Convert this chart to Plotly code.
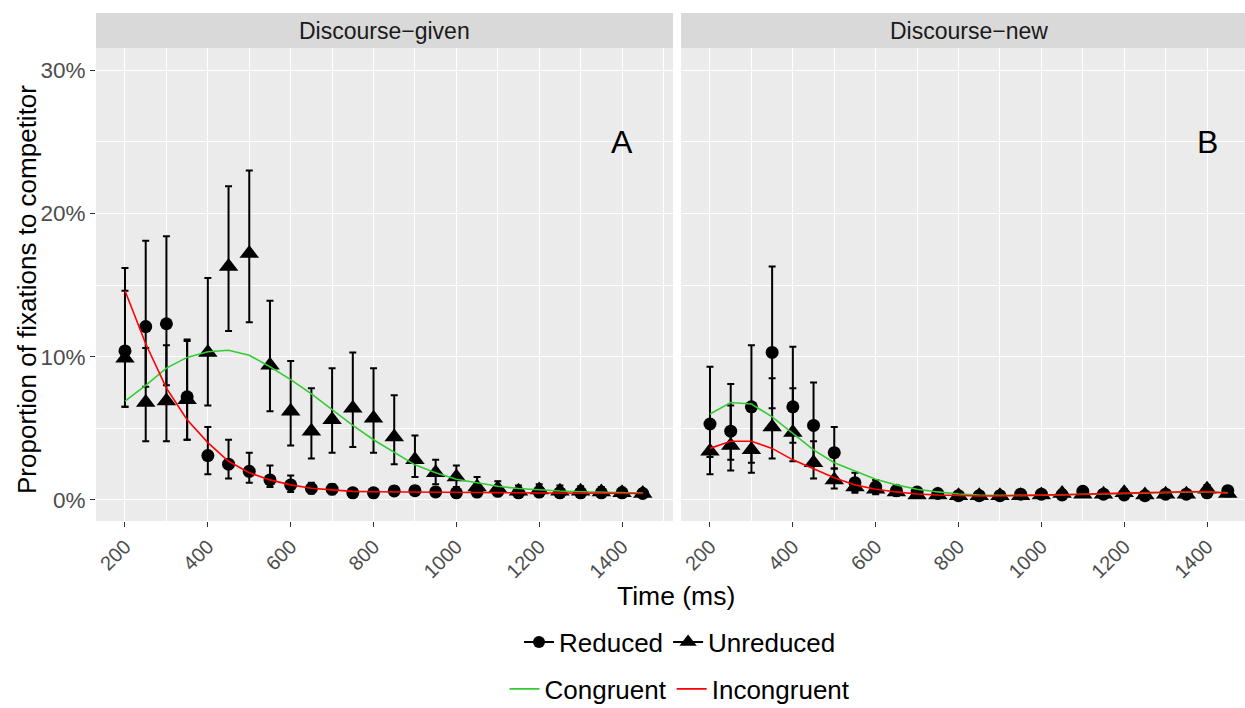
import plotly.graph_objects as go

# ---------------- data (values in %) ----------------
time_ms = [200, 250, 300, 350, 400, 450, 500, 550, 600, 650, 700, 750, 800,
           850, 900, 950, 1000, 1050, 1100, 1150, 1200, 1250, 1300, 1350, 1400, 1450]

# Discourse-given panel
given_reduced = [10.4, 12.1, 12.3, 7.2, 3.1, 2.5, 2.0, 1.4, 1.05, 0.8, 0.75, 0.5, 0.5,
                 0.63, 0.65, 0.56, 0.5, 0.55, 0.6, 0.5, 0.55, 0.5, 0.5, 0.5, 0.5, 0.45]
given_reduced_lo = [6.5, 7.9, 8.0, 4.2, 1.8, 1.5, 1.2, 0.9, 0.55, 0.45, 0.4, 0.25, 0.25,
                    0.35, 0.35, 0.3, 0.25, 0.3, 0.35, 0.3, 0.3, 0.3, 0.3, 0.3, 0.3, 0.25]
given_reduced_hi = [14.6, 18.1, 18.4, 11.1, 5.1, 4.2, 3.3, 2.4, 1.7, 1.2, 1.1, 0.8, 0.8,
                    0.95, 0.95, 0.85, 0.8, 0.85, 0.9, 0.8, 0.8, 0.75, 0.75, 0.75, 0.75, 0.7]
given_unreduced = [9.9, 6.8, 6.9, 7.0, 10.3, 16.3, 17.2, 9.4, 6.2, 4.8, 5.6, 6.4, 5.7,
                   4.4, 2.8, 1.9, 1.6, 0.9, 0.8, 0.6, 0.7, 0.6, 0.6, 0.55, 0.5, 0.45]
given_unreduced_lo = [6.5, 4.1, 4.1, 4.2, 6.6, 11.8, 12.4, 6.2, 3.8, 2.9, 3.3, 3.7, 3.3,
                      2.5, 1.6, 1.1, 0.9, 0.5, 0.4, 0.3, 0.4, 0.3, 0.3, 0.3, 0.3, 0.25]
given_unreduced_hi = [16.2, 10.6, 10.8, 11.2, 15.5, 21.9, 23.0, 13.9, 9.7, 7.8, 9.2, 10.3, 9.2,
                      7.3, 4.5, 2.8, 2.4, 1.6, 1.3, 1.0, 1.1, 1.0, 0.95, 0.9, 0.85, 0.75]
given_congruent = [6.9, 8.0, 9.2, 9.95, 10.35, 10.45, 10.1, 9.3, 8.4, 7.4, 6.3, 5.2, 4.2,
                   3.35, 2.45, 1.9, 1.45, 1.2, 0.95, 0.8, 0.7, 0.62, 0.57, 0.53, 0.5, 0.48]
given_incongruent = [14.6, 10.9, 7.8, 5.6, 4.0, 2.7, 1.9, 1.4, 1.05, 0.82, 0.7, 0.6, 0.57,
                     0.55, 0.55, 0.54, 0.53, 0.52, 0.51, 0.5, 0.5, 0.49, 0.48, 0.47, 0.46, 0.45]

# Discourse-new panel
new_reduced = [5.3, 4.8, 6.5, 10.3, 6.5, 5.2, 3.3, 1.2, 0.9, 0.65, 0.55, 0.45, 0.3,
               0.3, 0.3, 0.4, 0.4, 0.35, 0.6, 0.4, 0.35, 0.3, 0.4, 0.4, 0.5, 0.65]
new_reduced_lo = [3.0, 2.8, 2.6, 6.4, 4.0, 2.5, 2.2, 0.6, 0.5, 0.35, 0.3, 0.25, 0.15,
                  0.15, 0.15, 0.2, 0.2, 0.2, 0.35, 0.2, 0.2, 0.15, 0.2, 0.2, 0.3, 0.4]
new_reduced_hi = [9.3, 8.1, 10.8, 16.3, 10.7, 8.2, 5.1, 1.9, 1.4, 1.0, 0.85, 0.7, 0.5,
                  0.5, 0.5, 0.6, 0.6, 0.55, 0.85, 0.6, 0.55, 0.5, 0.6, 0.6, 0.75, 0.9]
new_unreduced = [3.4, 3.8, 3.5, 5.1, 4.7, 2.6, 1.4, 0.9, 0.75, 0.55, 0.35, 0.35, 0.3,
                 0.3, 0.3, 0.3, 0.35, 0.45, 0.4, 0.4, 0.5, 0.35, 0.4, 0.4, 0.75, 0.45]
new_unreduced_lo = [1.8, 2.05, 1.9, 2.9, 2.7, 1.5, 0.8, 0.5, 0.4, 0.3, 0.2, 0.2, 0.15,
                    0.15, 0.15, 0.15, 0.2, 0.25, 0.2, 0.2, 0.3, 0.2, 0.2, 0.2, 0.45, 0.25]
new_unreduced_hi = [5.2, 6.6, 6.2, 8.5, 7.8, 4.1, 2.2, 1.5, 1.2, 0.85, 0.55, 0.55, 0.5,
                    0.5, 0.5, 0.5, 0.55, 0.7, 0.65, 0.65, 0.75, 0.55, 0.6, 0.6, 1.05, 0.7]
new_congruent = [6.0, 6.8, 6.7, 5.8, 4.65, 3.5, 2.6, 2.05, 1.45, 1.05, 0.75, 0.56, 0.42,
                 0.35, 0.32, 0.32, 0.33, 0.36, 0.4, 0.43, 0.47, 0.5, 0.53, 0.56, 0.57, 0.5]
new_incongruent = [3.6, 4.1, 4.1, 3.6, 2.8, 2.2, 1.55, 1.05, 0.75, 0.56, 0.42, 0.35, 0.3,
                   0.28, 0.28, 0.3, 0.32, 0.36, 0.4, 0.44, 0.48, 0.52, 0.55, 0.57, 0.58, 0.47]

panel_titles = ["Discourse−given", "Discourse−new"]
panel_letters = ["A", "B"]
y_tick_vals = [0, 0.1, 0.2, 0.3]
y_tick_text = ["0%", "10%", "20%", "30%"]
x_tick_vals = [200, 400, 600, 800, 1000, 1200, 1400]

# ---------------- styling ----------------
FONT = "Liberation Sans, Arial, Helvetica, sans-serif"
GREEN = "#33CC33"
RED = "#FF0000"
PANEL_BG = "#EBEBEB"
STRIP_BG = "#D9D9D9"

W, H = 1245, 708
ML, MR, MT, MB = 96, 0, 48, 187
plot_w = W - ML - MR
plot_h = H - MT - MB
px_left_end, px_right_start = 673, 681
dom1 = [0, (px_left_end - ML) / plot_w]
dom2 = [(px_right_start - ML) / plot_w, 1]
x_px_per_ms = (px_left_end - ML) / (1523 - 130)
x2_max = 130 + (W - MR - px_right_start) / x_px_per_ms


def frac(v):
    return [a / 100 for a in v]


def err(mean, lo, hi):
    return dict(type="data", symmetric=False,
                array=[(h - m) / 100 for m, h in zip(mean, hi)],
                arrayminus=[(m - l) / 100 for m, l in zip(mean, lo)],
                color="black", thickness=2, width=3.5)


fig = go.Figure()

panels = [
    ("x", "y", given_reduced, given_reduced_lo, given_reduced_hi,
     given_unreduced, given_unreduced_lo, given_unreduced_hi,
     given_congruent, given_incongruent),
    ("x2", "y2", new_reduced, new_reduced_lo, new_reduced_hi,
     new_unreduced, new_unreduced_lo, new_unreduced_hi,
     new_congruent, new_incongruent),
]

for xa, ya, red_m, red_l, red_h, unr_m, unr_l, unr_h, cong, incong in panels:
    fig.add_trace(go.Scatter(x=time_ms, y=frac(red_m), mode="markers", xaxis=xa, yaxis=ya,
                             marker=dict(symbol="circle", size=13, color="black"),
                             error_y=err(red_m, red_l, red_h), showlegend=False,
                             hoverinfo="skip"))
    fig.add_trace(go.Scatter(x=time_ms, y=frac(unr_m), mode="markers", xaxis=xa, yaxis=ya,
                             marker=dict(symbol="triangle-up", size=17, color="black"),
                             error_y=err(unr_m, unr_l, unr_h), showlegend=False,
                             hoverinfo="skip"))
    fig.add_trace(go.Scatter(x=time_ms, y=frac(cong), mode="lines", xaxis=xa, yaxis=ya,
                             line=dict(color=GREEN, width=1.6), showlegend=False,
                             hoverinfo="skip"))
    fig.add_trace(go.Scatter(x=time_ms, y=frac(incong), mode="lines", xaxis=xa, yaxis=ya,
                             line=dict(color=RED, width=1.6), showlegend=False,
                             hoverinfo="skip"))

# legend entries
fig.add_trace(go.Scatter(x=[None], y=[None], mode="lines+markers", name="Reduced",
                         line=dict(color="black", width=2),
                         marker=dict(symbol="circle", size=12, color="black"),
                         legend="legend"))
fig.add_trace(go.Scatter(x=[None], y=[None], mode="lines+markers", name="Unreduced",
                         line=dict(color="black", width=2),
                         marker=dict(symbol="triangle-up", size=15, color="black"),
                         legend="legend"))
fig.add_trace(go.Scatter(x=[None], y=[None], mode="lines", name="Congruent",
                         line=dict(color=GREEN, width=1.6), legend="legend2"))
fig.add_trace(go.Scatter(x=[None], y=[None], mode="lines", name="Incongruent",
                         line=dict(color=RED, width=1.6), legend="legend2"))

xaxis_common = dict(
    tickvals=x_tick_vals, ticks="outside", ticklen=5, tickcolor="#333333", tickwidth=1,
    tickangle=-45, tickfont=dict(family=FONT, size=20, color="#4D4D4D"),
    showgrid=True, gridcolor="white", gridwidth=1.4, zeroline=False, showline=False,
    automargin=False,
    minor=dict(dtick=200, tick0=300, showgrid=True, gridcolor="white", gridwidth=0.7,
               ticks=""),
)
yaxis_common = dict(
    range=[-0.0147, 0.3155], tickvals=y_tick_vals, ticktext=y_tick_text,
    showgrid=True, gridcolor="white", gridwidth=1.4, zeroline=False, showline=False,
    automargin=False,
    minor=dict(tickvals=[0.05, 0.15, 0.25], showgrid=True, gridcolor="white",
               gridwidth=0.7, ticks=""),
)

legend_x = 680 / W
fig.update_layout(
    width=W, height=H,
    margin=dict(l=ML, r=MR, t=MT, b=MB),
    paper_bgcolor="white", plot_bgcolor=PANEL_BG,
    font=dict(family=FONT, color="black"),
    xaxis=dict(domain=dom1, range=[130, 1523], anchor="y", **xaxis_common),
    xaxis2=dict(domain=dom2, range=[130, x2_max], anchor="y2", **xaxis_common),
    yaxis=dict(domain=[0, 1], anchor="x", ticks="outside", ticklen=5,
               tickcolor="#333333", tickwidth=1,
               tickfont=dict(family=FONT, size=22.5, color="#4D4D4D"), **yaxis_common),
    yaxis2=dict(domain=[0, 1], anchor="x2", matches="y", showticklabels=False,
                ticks="", **yaxis_common),
    legend=dict(orientation="h", xref="container", yref="container",
                x=legend_x, xanchor="center", y=1 - 642 / H, yanchor="middle",
                font=dict(family=FONT, size=26, color="black"),
                itemwidth=30, tracegroupgap=0, bgcolor="rgba(0,0,0,0)"),
    legend2=dict(orientation="h", xref="container", yref="container",
                 x=legend_x, xanchor="center", y=1 - 689 / H, yanchor="middle",
                 font=dict(family=FONT, size=26, color="black"),
                 itemwidth=30, tracegroupgap=0, bgcolor="rgba(0,0,0,0)"),
    showlegend=True,
)

# facet strips
strip_top = 1 + (MT - 13) / plot_h
for dom, title in zip([dom1, dom2], panel_titles):
    fig.add_shape(type="rect", xref="paper", yref="paper", x0=dom[0], x1=dom[1],
                  y0=1, y1=strip_top, fillcolor=STRIP_BG, line=dict(width=0), layer="below")
strip_centers = [(dom1[0] + dom1[1]) / 2, (969 - ML) / plot_w]
for cx, title in zip(strip_centers, panel_titles):
    fig.add_annotation(x=cx, y=(1 + strip_top) / 2, xref="paper", yref="paper",
                       text=title, showarrow=False, xanchor="center", yanchor="middle",
                       font=dict(family=FONT, size=23, color="#1A1A1A"))

# panel letters
for xa, ya, letter in [("x", "y", panel_letters[0]), ("x2", "y2", panel_letters[1])]:
    fig.add_annotation(x=1400, y=0.25, xref=xa, yref=ya, text=letter, showarrow=False,
                       xanchor="center", yanchor="middle",
                       font=dict(family=FONT, size=32, color="black"))

# axis titles
fig.add_annotation(x=(676 - ML) / plot_w, y=(MT + plot_h - 596) / plot_h, xref="paper",
                   yref="paper", text="Time (ms)", showarrow=False, xanchor="center",
                   yanchor="middle", font=dict(family=FONT, size=26.5, color="black"))
fig.add_annotation(x=(27 - ML) / plot_w, y=(MT + plot_h - 290) / plot_h, xref="paper",
                   yref="paper", text="Proportion of fixations to competitor",
                   showarrow=False, textangle=-90, xanchor="center", yanchor="middle",
                   font=dict(family=FONT, size=26, color="black"))

fig.write_html("out.html", config={"displayModeBar": False},
               post_script="document.body.style.margin='0';document.body.style.padding='0';")
